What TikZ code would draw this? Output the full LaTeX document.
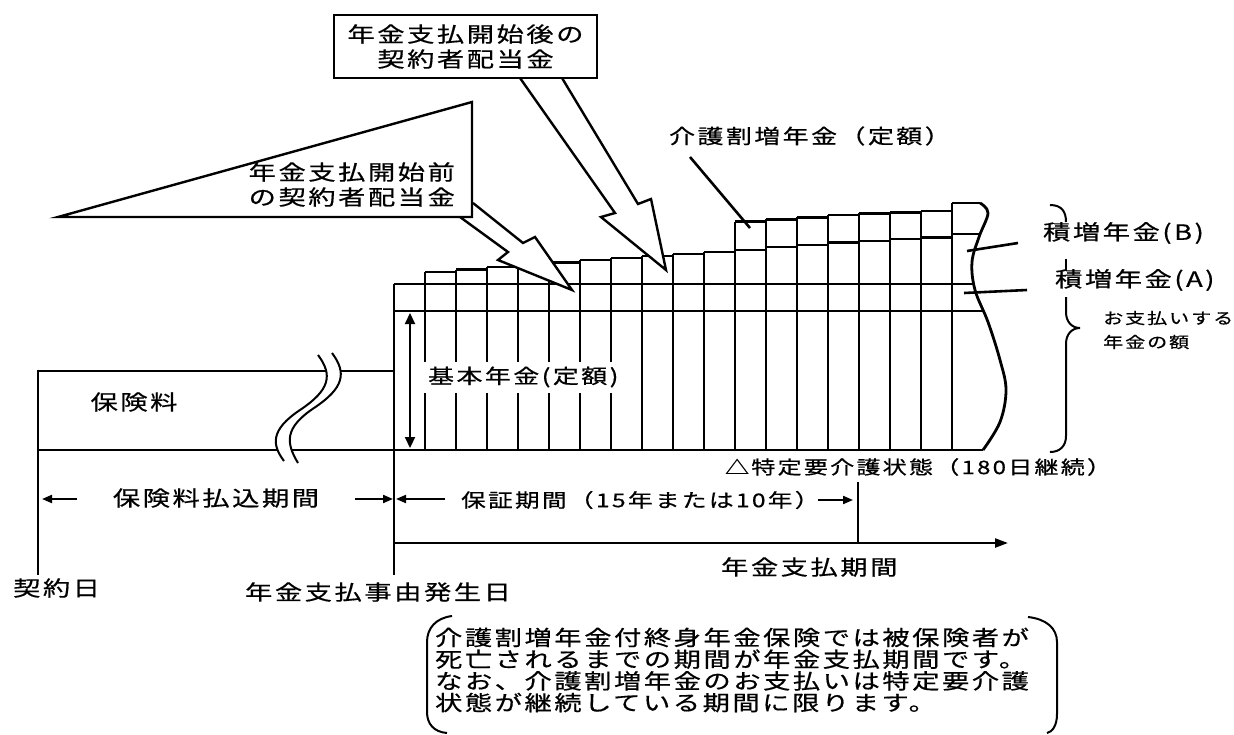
\documentclass[tikz,border=0pt]{standalone}
\usepackage{fontspec}
\usepackage{tikz}
\usetikzlibrary{arrows.meta}
\newfontfamily\jpfont[FakeStretch=1.3,LetterSpace=12,FakeBold=0.6]{Noto Sans CJK JP}
\newcommand\jpsize[2]{\jpfont\fontsize{#1}{#2}\selectfont}

\begin{document}
\begin{tikzpicture}[x=1pt,y=-1pt,line width=2.2pt,
		bar/.style={line width=2.8pt},
		lbl/.style={inner sep=0pt,font=\jpsize{21}{25}},
		callout/.style={draw,fill=white,line width=2.4pt,line join=miter},
		period/.style={line width=2pt,-{Triangle[length=10pt,width=8pt]}},
		leader/.style={line width=2.6pt}]
		\useasboundingbox (0,0) rectangle (1234,734);

		% premium box
		\draw[bar] (38,575) -- (38,371) -- (394,371);
		\draw[bar] (38,450) -- (983,450);
		\fill[white] (318,355) .. controls (333,375) and (330,390) .. (300,410)
			.. controls (270,430) and (272,445) .. (284,461) -- (298,463)
			.. controls (286,443) and (284,428) .. (314,408)
			.. controls (344,388) and (347,373) .. (332,353) -- cycle;
		\draw[line width=2pt] (318,355) .. controls (333,375) and (330,390) .. (300,410)
			.. controls (270,430) and (272,445) .. (284,461);
		\draw[line width=2pt] (332,353) .. controls (347,373) and (344,388) .. (314,408)
			.. controls (284,428) and (286,443) .. (298,463);

		% bars
		\foreach \n/\accum/\care in
		{1/284/284, 2/272/272, 3/269.5/269.5, 4/267/267, 5/265/265,
		6/262.5/262.5, 7/260/260, 8/258/258, 9/256/256, 10/254/254,
		11/252/252, 12/250/221.7, 13/247/219.3, 14/245/217.3,
		15/242.5/215, 16/241/213.3, 17/239/212.3, 18/237.5/211}
		{
			\pgfmathsetmacro{\x}{394+31*(\n-1)}
			\draw[bar] (\x,\care) -- (\x,450);
			\draw[bar] (\x,\care) -- (\x+31,\care);
			\draw[bar] (\x,\accum) -- (\x+31,\accum);
		}
		\draw[bar] (952,203) -- (952,450);
		\draw[bar] (952,203) -- (980,203);
		\draw[bar] (952,234) -- (979,234);
		\draw[bar] plot[smooth,tension=0.6] coordinates {(980,203) (988,213) (979,237)
			(972,262) (975,290) (988,322) (1000,360) (1006,390) (1000,422) (983,450)};
		\draw[bar] (394,284) -- (974,284);
		\draw[bar] (394,311) -- (984,311);
		\draw[bar] (394,450) -- (394,575);

		\draw[line width=2.2pt,{Triangle[length=11pt,width=10pt]}-{Triangle[length=11pt,width=10pt]}]
			(410,313) -- (410,448);
		\node[lbl,anchor=west,fill=white,inner xsep=5pt,minimum height=31pt,font=\jpsize{20}{24}]
			(basic) at (422,377) {基本年金(定額)};

		% dividend callouts
		\draw[callout] (473,203) -- (523,243) -- (535,237) -- (572,290)
			-- (498,260) -- (508,252) -- (460,217);
		\draw[callout] (520,78) -- (615,213) -- (601,217) -- (666,270)
			-- (651,199) -- (638,204) -- (562,78);
		\draw[callout] (58,217) -- (472,102) -- (472,217) -- cycle;
		\node[lbl,anchor=east,align=right]
			(before) at (456,184.5) {年金支払開始前\\の契約者配当金};
		\node[draw,fill=white,line width=2.4pt,minimum width=263pt,minimum height=63pt,
			align=center,font=\jpsize{21}{25}]
			(after) at (465.5,46.5) {年金支払開始後の\\契約者配当金};

		% right labels
		\node[lbl,anchor=west,font=\jpsize{20}{24}] (care) at (668,136) {介護割増年金（定額）};
		\coordinate (careTail) at (690,157);
		\coordinate (careEnd) at (750,228);
		\draw[leader] (careTail) -- (careEnd);
		\node[lbl,anchor=west] (accB) at (1042,233) {積増年金(B)};
		\node[lbl,anchor=west] (accA) at (1054,280) {積増年金(A)};
		\coordinate (accBEnd) at (967,251);
		\coordinate (accAEnd) at (964,293);
		\draw[leader] (1018,243) -- (accBEnd);
		\draw[leader] (1027,290) -- (accAEnd);
		\draw[line width=2pt] (1050,205) .. controls (1062,205) and (1066,212) .. (1066,222);
		\draw[line width=2pt] (1066,259) -- (1066,271);
		\draw[line width=2pt] (1066,297) -- (1066,312) .. controls (1066,322) and (1072,328) .. (1080,328)
			.. controls (1072,328) and (1066,334) .. (1066,344) -- (1066,436)
			.. controls (1066,446) and (1060,452) .. (1050,452);
		\node[lbl,anchor=west,align=left,font=\jpsize{15.5}{24}]
			(amount) at (1102,330) {お支払いする\\年金の額};
		\node[lbl,anchor=west,font=\jpsize{18.5}{22}] (state) at (724,467) {△特定要介護状態（180日継続）};

		% periods
		\node[lbl] (premium) at (134,402) {保険料};
		\node[lbl] (payin) at (216,498) {保険料払込期間};
		\draw[period] (77,499) -- (42,499);
		\draw[period] (355,499) -- (393,499);
		\node[lbl,anchor=west,font=\jpsize{19}{22}] (guarantee) at (460,500) {保証期間（15年または10年）};
		\draw[period] (445,499) -- (396,499);
		\draw[period] (818,500) -- (853,500);
		\coordinate (guaranteeEnd) at (858,482);
		\draw[bar] (guaranteeEnd) -- (858,543);
		\draw[line width=2.2pt,-{Triangle[length=13pt,width=9pt]}] (394,543) -- (1008,543);
		\node[lbl,anchor=west] (paying) at (720,567) {年金支払期間};
		\node[lbl,anchor=west] (contract) at (12,588) {契約日};
		\node[lbl,anchor=west] (event) at (244,592) {年金支払事由発生日};

		% note
		\draw[line width=2pt] (452,616) .. controls (436,618) and (427,628) .. (427,642)
			-- (427,712) .. controls (427,724) and (434,732) .. (447,733);
		\draw[line width=2pt] (1028,617) .. controls (1046,619) and (1057,628) .. (1057,642)
			-- (1057,714) .. controls (1057,726) and (1052,732) .. (1047,733);
		\node[lbl,anchor=west,align=left,font=\jpsize{21}{21.7}]
			(note) at (434,670) {介護割増年金付終身年金保険では被保険者が\\
			死亡されるまでの期間が年金支払期間です。\\
			なお、介護割増年金のお支払いは特定要介護\\
			状態が継続している期間に限ります。};
	\end{tikzpicture}
\end{document}
